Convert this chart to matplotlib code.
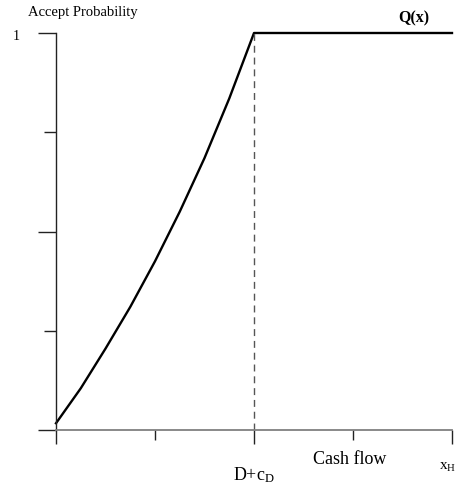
import matplotlib
matplotlib.use("Agg")
import matplotlib.pyplot as plt

plt.rcParams['font.family'] = ['Liberation Serif', 'DejaVu Serif']
plt.rcParams['mathtext.fontset'] = 'custom'
plt.rcParams['mathtext.rm'] = 'Liberation Serif'

# Data
cash_flow = [0.0, 0.25, 0.5, 0.75, 1.0, 1.25, 1.5, 1.75, 2.0, 4.0]
accept_prob = [0.017, 0.105, 0.205, 0.31, 0.425, 0.55, 0.685, 0.835, 1.0, 1.0]
threshold = 2.0  # D + c_D

W, H = 458, 484
fig = plt.figure(figsize=(W/100, H/100), dpi=100)
ax = fig.add_axes([56/W, 1-430/H, (452-56)/W, (430-33)/H])
ax.set_xlim(0, 4)
ax.set_ylim(0, 1)

ax.plot(cash_flow, accept_prob, color='black', lw=1.7, clip_on=False,
        solid_joinstyle='round')
ax.plot([threshold, threshold], [0, 1], color='#555555', lw=1.0,
        linestyle=(0, (5, 3.5)), clip_on=False)

for s in ['top', 'right']:
    ax.spines[s].set_visible(False)
ax.spines['left'].set_color('#222222')
ax.spines['left'].set_linewidth(1.0)
ax.spines['bottom'].set_color('#808080')
ax.spines['bottom'].set_linewidth(1.3)

ax.set_yticks([0, 0.5, 1])
ax.set_yticks([0.25, 0.75], minor=True)
ax.set_xticks([0, 2, 4])
ax.set_xticks([1, 3], minor=True)
ax.tick_params(axis='y', which='major', length=13, width=1.0, color='#222222', labelleft=False)
ax.tick_params(axis='y', which='minor', length=9, width=1.0, color='#222222', labelleft=False)
ax.tick_params(axis='x', which='major', length=10, width=1.0, color='#222222', labelbottom=False)
ax.tick_params(axis='x', which='minor', length=7, width=1.0, color='#222222', labelbottom=False)

def px(x, y, s, **kw):
    fig.text(x/W, 1-y/H, s, **kw)

px(28, 16, 'Accept Probability', fontsize=10.5, ha='left', va='baseline')
px(13, 40, '1', fontsize=10, ha='left', va='baseline')
px(414, 22, 'Q(x)', fontsize=11.5, fontweight='bold', ha='center', va='baseline')
px(350, 464, 'Cash flow', fontsize=13, ha='center', va='baseline')
px(254, 480, r'$\mathrm{D{+}c_D}$', fontsize=13, ha='center', va='baseline')
px(456, 470, r'$\mathrm{x_H}$', fontsize=11, ha='right', va='baseline')

fig.savefig('out.png', dpi=100)
